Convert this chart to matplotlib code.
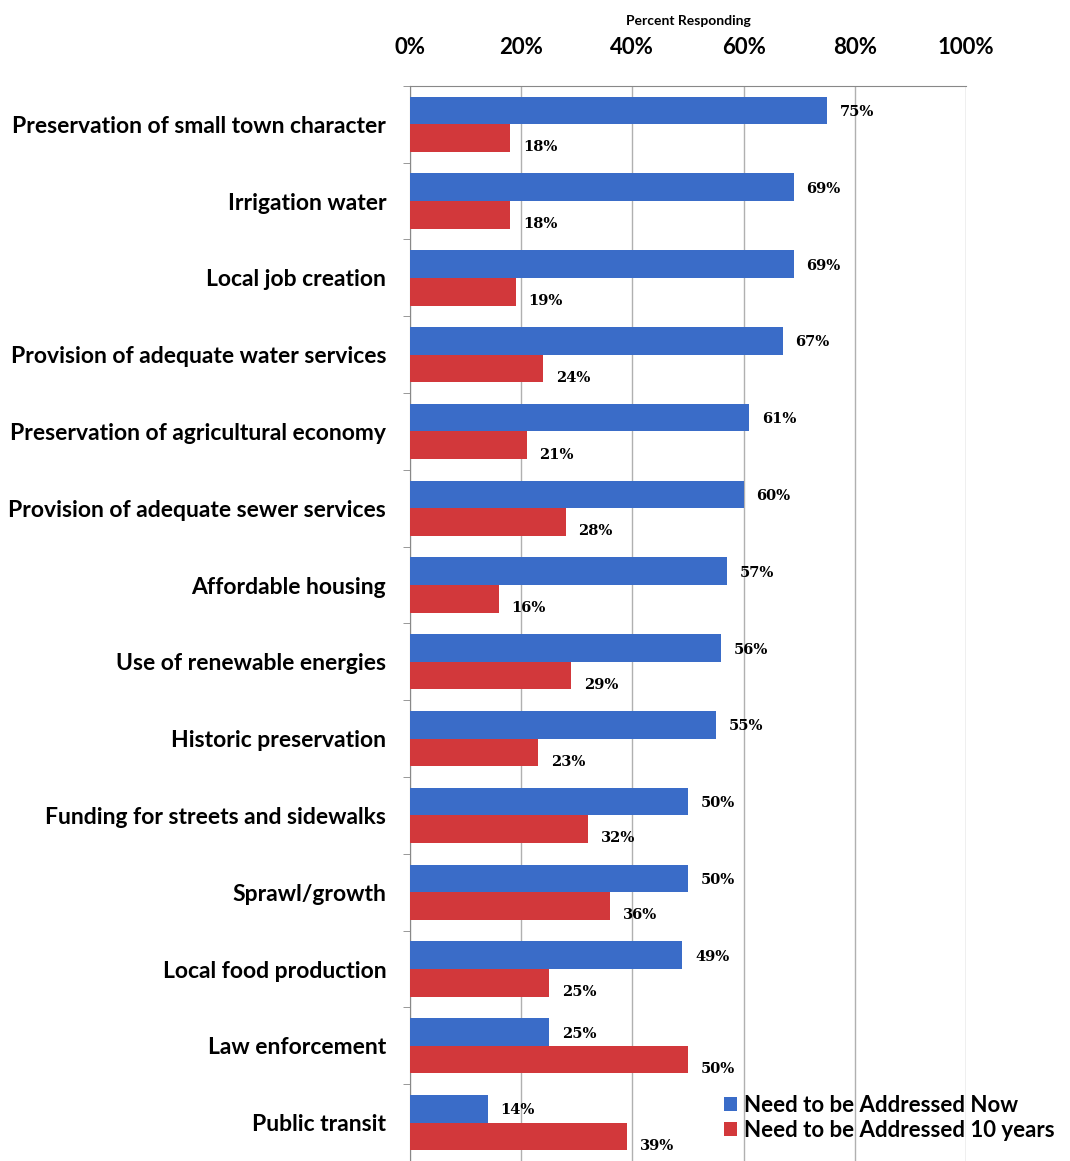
import numpy as np
import matplotlib.pyplot as plt
from matplotlib.font_manager import FontProperties

plt.rcParams['font.family'] = ['Lato', 'DejaVu Sans']

categories = [
    'Preservation of small town character',
    'Irrigation water',
    'Local job creation',
    'Provision of adequate water services',
    'Preservation of agricultural economy',
    'Provision of adequate sewer services',
    'Affordable housing',
    'Use of renewable energies',
    'Historic preservation',
    'Funding for streets and sidewalks',
    'Sprawl/growth',
    'Local food production',
    'Law enforcement',
    'Public transit',
]
now = [75, 69, 69, 67, 61, 60, 57, 56, 55, 50, 50, 49, 25, 14]
ten_years = [18, 18, 19, 24, 21, 28, 16, 29, 23, 32, 36, 25, 50, 39]
series_names = ['Need to be Addressed Now', 'Need to be Addressed 10 years']
x_ticks = [0, 20, 40, 60, 80, 100]

BLUE = '#3a6cc8'
RED = '#d2383b'

fig = plt.figure(figsize=(10.7, 11.61), dpi=100)
ax = fig.add_axes([0.383, 0.0, 0.520, 0.926])

y = np.arange(len(categories))
h = 0.36
ax.barh(y - h / 2, now, height=h, color=BLUE, label=series_names[0], zorder=3)
ax.barh(y + h / 2, ten_years, height=h, color=RED, label=series_names[1], zorder=3)

for i, (a, b) in enumerate(zip(now, ten_years)):
    ax.text(a + 2.3, i - h / 2 + 0.02, f'{a}%', va='center', ha='left',
            fontsize=10.5, fontweight='bold', family=['DejaVu Serif'])
    ax.text(b + 2.3, i + h / 2 + 0.12, f'{b}%', va='center', ha='left',
            fontsize=10.5, fontweight='bold', family=['DejaVu Serif'])

ax.set_xlim(0, 100)
ax.set_ylim(len(categories) - 0.5, -0.5)
ax.xaxis.tick_top()
ax.xaxis.set_label_position('top')
ax.set_xticks(x_ticks)
ax.set_xticklabels([f'{t}%' for t in x_ticks], fontsize=16, fontweight='bold')
ax.tick_params(axis='x', length=0, pad=20)
ax.set_xlabel('Percent Responding', fontsize=10, fontweight='bold', labelpad=9)

ax.set_yticks(y)
ax.set_yticklabels(categories, fontsize=16.5, fontweight='bold')
ax.tick_params(axis='y', length=0, pad=17)
ax.set_yticks(np.arange(len(categories) + 1) - 0.5, minor=True)
ax.tick_params(axis='y', which='minor', length=5, color='#888888')

ax.grid(axis='x', color='#b0b0b0', linewidth=1, zorder=0)
for s in ['right', 'bottom']:
    ax.spines[s].set_visible(False)
ax.spines['top'].set_color('#888888')
ax.spines['left'].set_color('#888888')

fig.legend(loc='lower right', bbox_to_anchor=(1.004, 0.0), frameon=False,
           prop=FontProperties(family='Lato', weight='bold', size=16),
           handlelength=0.6, handleheight=0.6, handletextpad=0.3,
           labelspacing=0.2)

fig.savefig('out.png', dpi=100)
